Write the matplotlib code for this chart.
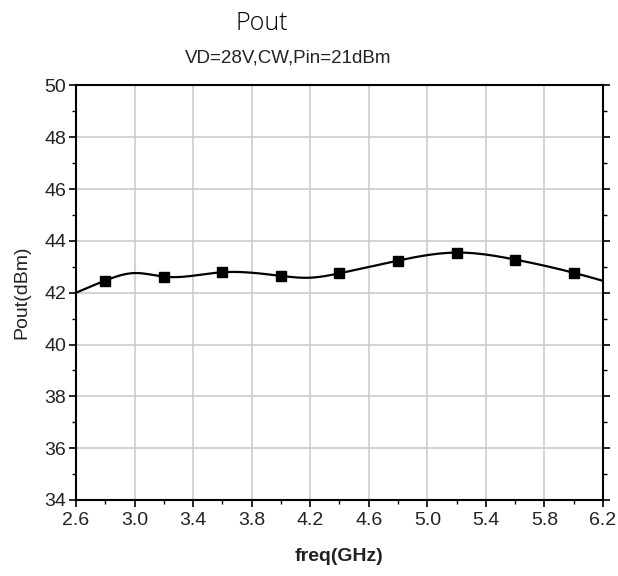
import numpy as np
import matplotlib
matplotlib.use('Agg')
import matplotlib.pyplot as plt
from matplotlib.ticker import FixedLocator

# 测量数据
freq = [2.8, 3.2, 3.6, 4.0, 4.4, 4.8, 5.2, 5.6, 6.0]
pout = [42.47, 42.62, 42.79, 42.65, 42.75, 43.24, 43.55, 43.28, 42.77]
# 曲线上另外读出的点 (两端和两个拐点)
curve_freq = [2.6, 3.0, 4.2, 6.2]
curve_pout = [42.0, 42.76, 42.58, 42.46]
xticks = [2.6, 3.0, 3.4, 3.8, 4.2, 4.6, 5.0, 5.4, 5.8, 6.2]
yticks = [34, 36, 38, 40, 42, 44, 46, 48, 50]


def natural_spline(xs, ys, xn):
    xs = np.asarray(xs, float)
    ys = np.asarray(ys, float)
    n = len(xs)
    h = np.diff(xs)
    A = np.zeros((n, n))
    b = np.zeros(n)
    A[0, 0] = A[-1, -1] = 1
    for i in range(1, n - 1):
        A[i, i - 1] = h[i - 1]
        A[i, i] = 2 * (h[i - 1] + h[i])
        A[i, i + 1] = h[i]
        b[i] = 6 * ((ys[i + 1] - ys[i]) / h[i] - (ys[i] - ys[i - 1]) / h[i - 1])
    M = np.linalg.solve(A, b)
    idx = np.clip(np.searchsorted(xs, xn) - 1, 0, n - 2)
    x0, x1 = xs[idx], xs[idx + 1]
    hh = x1 - x0
    t0, t1 = x1 - xn, xn - x0
    return (M[idx] * t0 ** 3 / (6 * hh) + M[idx + 1] * t1 ** 3 / (6 * hh)
            + (ys[idx] / hh - M[idx] * hh / 6) * t0
            + (ys[idx + 1] / hh - M[idx + 1] * hh / 6) * t1)


pts = sorted(zip(freq + curve_freq, pout + curve_pout))
all_x = [p[0] for p in pts]
all_y = [p[1] for p in pts]
xx = np.linspace(2.6, 6.2, 400)
yy = natural_spline(all_x, all_y, xx)

plt.rcParams['font.family'] = ['Liberation Sans', 'DejaVu Sans']

fig = plt.figure(figsize=(6.18, 5.76), dpi=100)
ax = fig.add_axes([0.123, 0.132, 0.8527, 0.7196])

ax.plot(xx, yy, color='black', lw=1.6, zorder=3)
ax.plot(freq, pout, 's', color='black', ms=6.5, zorder=4)

ax.set_xlim(2.6, 6.2)
ax.set_ylim(34, 50)
ax.xaxis.set_major_locator(FixedLocator(xticks))
ax.xaxis.set_minor_locator(FixedLocator([t + 0.2 for t in xticks[:-1]]))
ax.yaxis.set_major_locator(FixedLocator(yticks))
ax.yaxis.set_minor_locator(FixedLocator([t + 1 for t in yticks[:-1]]))
ax.set_xticklabels([f'{v:.1f}' for v in xticks])
ax.grid(True, which='major', color='#cccccc', lw=1.2, zorder=0)

for s in ax.spines.values():
    s.set_linewidth(1.5)
ax.tick_params(which='major', direction='out', length=5, width=1.2,
               labelsize=14, labelcolor='#222222', right=True, top=False)
ax.tick_params(which='minor', direction='out', length=3, width=1.0,
               right=True, top=False)
ax.tick_params(axis='y', which='both', right=True, labelright=False)
ax.tick_params(axis='y', which='major', pad=2)

ax.set_xlabel('freq(GHz)', fontsize=14, fontweight='bold', labelpad=14,
              color='#222222')
ax.set_ylabel('Pout(dBm)', fontsize=14, labelpad=10, color='#222222')

fig.text(0.424, 0.96, 'Pout', ha='center', va='center', fontsize=18,
         family=['Open Sans', 'DejaVu Sans'], fontweight='light')
fig.text(0.466, 0.899, 'VD=28V,CW,Pin=21dBm', ha='center', va='center',
         fontsize=13.5, color='#222222')

fig.savefig('out.png', dpi=100)
